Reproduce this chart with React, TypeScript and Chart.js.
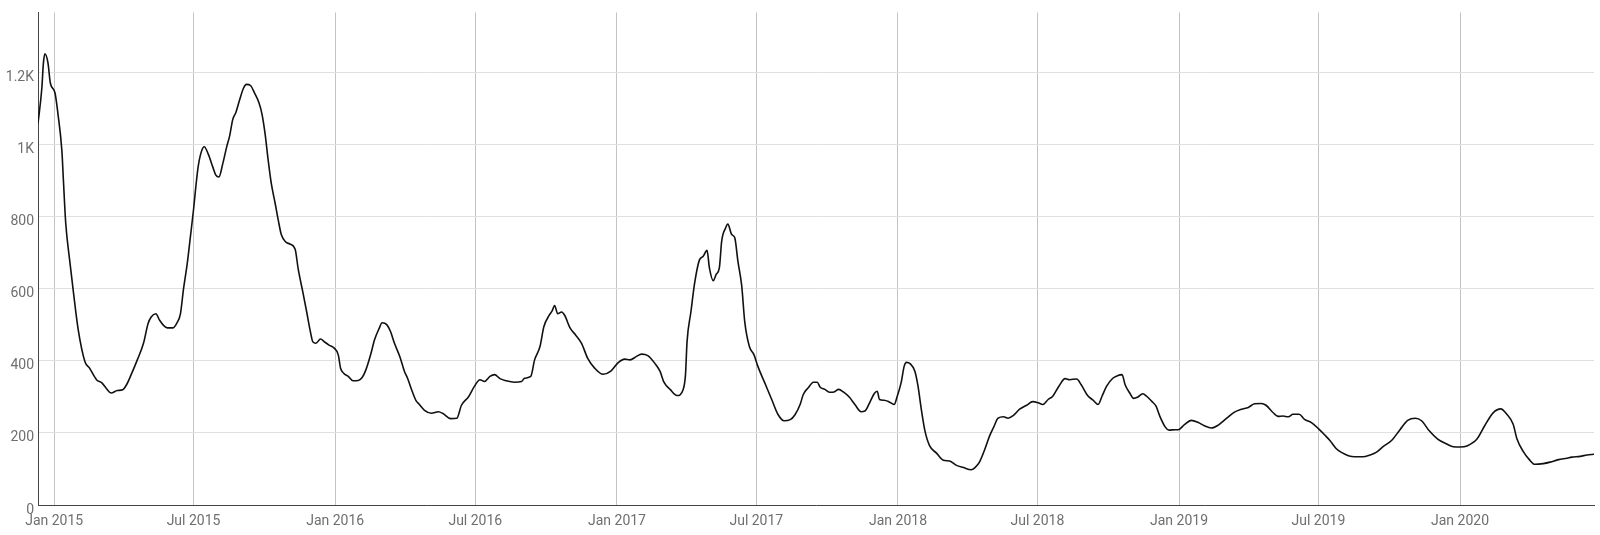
import React, { useEffect, useRef } from "react";
import { Chart, registerables } from "chart.js";

Chart.register(...registerables);

// ---- data ----
const dates: string[] = [
  "2014-12-11","2014-12-16","2014-12-18","2014-12-20","2014-12-24","2014-12-27",
  "2015-01-02","2015-01-06","2015-01-11","2015-01-13","2015-01-16","2015-01-21","2015-01-26",
  "2015-02-01","2015-02-10","2015-02-16","2015-02-25","2015-03-04","2015-03-10","2015-03-16",
  "2015-03-24","2015-03-31","2015-04-05","2015-04-11","2015-04-19","2015-04-27","2015-05-03",
  "2015-05-07","2015-05-13","2015-05-18","2015-05-23","2015-05-28","2015-06-04","2015-06-09",
  "2015-06-14","2015-06-18","2015-06-23","2015-06-27","2015-07-01","2015-07-04","2015-07-07",
  "2015-07-11","2015-07-15","2015-07-20","2015-07-26","2015-07-30","2015-08-03","2015-08-08",
  "2015-08-13","2015-08-17","2015-08-21","2015-08-25","2015-08-30","2015-09-04","2015-09-08",
  "2015-09-13","2015-09-18","2015-09-24","2015-09-28","2015-10-02","2015-10-06","2015-10-10",
  "2015-10-15","2015-10-19","2015-10-23","2015-10-29","2015-11-03","2015-11-10","2015-11-14",
  "2015-11-20","2015-11-25","2015-11-29","2015-12-03","2015-12-07","2015-12-13","2015-12-18",
  "2015-12-24","2015-12-31","2016-01-05","2016-01-08","2016-01-12","2016-01-18","2016-01-24",
  "2016-01-31","2016-02-05","2016-02-10","2016-02-16","2016-02-21","2016-02-27","2016-03-02",
  "2016-03-08","2016-03-13","2016-03-18","2016-03-25","2016-03-31","2016-04-04","2016-04-10",
  "2016-04-15","2016-04-19","2016-04-26","2016-05-05","2016-05-14","2016-05-20","2016-05-30",
  "2016-06-07","2016-06-13","2016-06-22","2016-06-30","2016-07-07","2016-07-13","2016-07-20",
  "2016-07-26","2016-08-02","2016-08-10","2016-08-21","2016-08-30","2016-09-03","2016-09-11",
  "2016-09-16","2016-09-23","2016-09-28","2016-10-05","2016-10-09","2016-10-12","2016-10-16",
  "2016-10-21","2016-10-25","2016-11-01","2016-11-08","2016-11-16","2016-11-24","2016-12-03",
  "2016-12-14","2016-12-24","2017-01-02","2017-01-11","2017-01-18","2017-01-26","2017-02-02",
  "2017-02-10","2017-02-19","2017-02-26","2017-03-03","2017-03-11","2017-03-20","2017-03-28",
  "2017-03-31","2017-04-02","2017-04-07","2017-04-12","2017-04-18","2017-04-23","2017-04-28",
  "2017-05-01","2017-05-06","2017-05-10","2017-05-14","2017-05-17","2017-05-22","2017-05-25",
  "2017-05-30","2017-06-03","2017-06-07","2017-06-12","2017-06-16","2017-06-22","2017-06-28",
  "2017-07-03","2017-07-12","2017-07-21","2017-07-29","2017-08-06","2017-08-14","2017-08-20",
  "2017-08-27","2017-08-31","2017-09-07","2017-09-13","2017-09-18","2017-09-22","2017-09-28",
  "2017-10-04","2017-10-10","2017-10-16","2017-10-22","2017-10-30","2017-11-06","2017-11-14",
  "2017-11-19","2017-11-26","2017-12-01","2017-12-05","2017-12-08","2017-12-14","2017-12-20",
  "2017-12-27","2017-12-31","2018-01-05","2018-01-09","2018-01-12","2018-01-17","2018-01-23",
  "2018-01-27","2018-01-31","2018-02-05","2018-02-11","2018-02-20","2018-03-01","2018-03-09",
  "2018-03-18","2018-03-27","2018-04-06","2018-04-11","2018-04-17","2018-04-24","2018-04-30",
  "2018-05-05","2018-05-11","2018-05-18","2018-05-24","2018-05-31","2018-06-08","2018-06-17",
  "2018-06-25","2018-07-02","2018-07-08","2018-07-15","2018-07-21","2018-07-29","2018-08-06",
  "2018-08-12","2018-08-21","2018-08-27","2018-09-04","2018-09-12","2018-09-18","2018-09-23",
  "2018-09-29","2018-10-07","2018-10-13","2018-10-19","2018-10-23","2018-10-29","2018-11-03",
  "2018-11-08","2018-11-15","2018-11-20","2018-11-27","2018-12-02","2018-12-07","2018-12-14",
  "2018-12-19","2018-12-27","2018-12-31","2019-01-08","2019-01-17","2019-01-26","2019-02-03",
  "2019-02-12","2019-02-21","2019-03-04","2019-03-14","2019-03-23","2019-04-01","2019-04-09",
  "2019-04-18","2019-04-24","2019-05-02","2019-05-10","2019-05-16","2019-05-23","2019-05-29",
  "2019-06-06","2019-06-13","2019-06-22","2019-07-01","2019-07-09","2019-07-16","2019-07-24",
  "2019-07-31","2019-08-09","2019-08-17","2019-08-28","2019-09-06","2019-09-14","2019-09-23",
  "2019-10-04","2019-10-15","2019-10-25","2019-11-04","2019-11-12","2019-11-22","2019-12-03",
  "2019-12-14","2019-12-23","2020-01-01","2020-01-10","2020-01-23","2020-02-02","2020-02-13",
  "2020-02-23","2020-03-01","2020-03-10","2020-03-15","2020-03-23","2020-03-31","2020-04-07",
  "2020-04-18","2020-04-27","2020-05-08","2020-05-19","2020-05-25","2020-06-05","2020-06-14",
  "2020-06-23",
];

const values: number[] = [
  1060,1158,1227,1253,1227,1172,
  1145,1085,984,902,783,682,591,
  490,398,380,348,339,323,311,
  318,320,334,362,403,449,504,
  522,531,513,499,492,492,504,
  531,600,673,746,820,884,939,
  980,995,975,939,916,911,948,
  994,1026,1071,1090,1126,1158,1168,
  1165,1145,1117,1085,1030,957,893,
  838,792,751,730,725,710,655,
  591,536,490,453,449,461,453,
  444,435,417,380,366,357,345,
  346,354,376,417,458,490,506,
  501,481,449,412,371,352,316,
  290,280,263,255,259,254,240,
  241,277,300,330,348,343,357,
  362,351,345,341,343,352,357,
  403,440,495,527,540,554,531,
  536,527,492,473,449,407,380,
  363,372,394,405,403,412,419,
  415,394,371,341,321,304,321,
  362,453,536,618,680,691,707,
  659,623,641,659,733,769,780,
  751,742,678,609,508,440,417,
  385,339,293,252,234,237,250,
  280,307,327,341,341,327,321,
  313,314,321,314,299,279,259,
  261,288,309,316,293,291,287,
  279,302,339,385,396,392,371,
  330,270,206,165,144,124,122,
  110,104,98,104,120,156,192,
  215,241,245,241,249,266,277,
  287,284,279,293,302,330,351,
  348,350,334,305,290,279,302,
  330,352,359,362,334,311,296,
  299,309,302,287,275,247,217,
  208,209,209,223,235,229,220,
  214,222,241,258,266,271,281,
  282,277,259,246,247,245,252,
  252,238,229,212,195,179,157,
  146,137,134,134,139,146,162,
  179,209,235,241,234,206,183,
  170,162,161,164,183,220,256,
  267,254,224,183,149,126,113,
  115,119,126,130,133,135,139,
  141,
];

const tickDates: string[] = [
  "2015-01-01","2015-07-01","2016-01-01","2016-07-01","2017-01-01","2017-07-01",
  "2018-01-01","2018-07-01","2019-01-01","2019-07-01","2020-01-01",
];
const tickLabels: string[] = [
  "Jan 2015","Jul 2015","Jan 2016","Jul 2016","Jan 2017","Jul 2017",
  "Jan 2018","Jul 2018","Jan 2019","Jul 2019","Jan 2020",
];
const yTicks: number[] = [0, 200, 400, 600, 800, 1000, 1200];
const yTickLabels: string[] = ["0", "200", "400", "600", "800", "1K", "1.2K"];
const xRange: string[] = ["2014-12-11", "2020-06-23"];
const yMax = 1368;

const BASE = Date.UTC(2015, 0, 1);
const dayOf = (d: string) => (Date.parse(d + "T00:00:00Z") - BASE) / 86400000;

export default function App() {
  const ref = useRef<HTMLCanvasElement | null>(null);

  useEffect(() => {
    document.body.style.margin = "0";
    const canvas = ref.current;
    if (!canvas) return;
    Chart.defaults.font.family = "Roboto";
    const points = dates.map((d, i) => ({ x: dayOf(d), y: values[i] }));
    const tickDays = tickDates.map(dayOf);
    const labelFor = new Map<number, string>();
    tickDays.forEach((t, i) => labelFor.set(t, tickLabels[i]));
    const yLabelFor = new Map<number, string>();
    yTicks.forEach((t, i) => yLabelFor.set(t, yTickLabels[i]));

    const chart = new Chart(canvas, {
      type: "line",
      data: {
        datasets: [
          {
            data: points,
            borderColor: "#111111",
            borderWidth: 1.6,
            pointRadius: 0,
            fill: false,
            cubicInterpolationMode: "monotone",
          },
        ],
      },
      options: {
        animation: false,
        responsive: false,
        devicePixelRatio: 1,
        layout: { padding: { top: 7, right: 6, left: 0, bottom: 0 } },
        plugins: { legend: { display: false }, tooltip: { enabled: false } },
        scales: {
          x: {
            type: "linear",
            min: dayOf(xRange[0]),
            max: dayOf(xRange[1]),
            afterBuildTicks: (scale: any) => {
              scale.ticks = tickDays.map((v) => ({ value: v }));
            },
            afterFit: (scale: any) => {
              scale.height = 30;
            },
            grid: { color: "#c4c4c4", lineWidth: 1, drawTicks: false },
            border: { color: "#444444", width: 1 },
            ticks: {
              color: "#6f6f6f",
              font: { size: 14, family: "Roboto" },
              padding: 8,
              maxRotation: 0,
              autoSkip: false,
              callback: (v: any) => labelFor.get(Number(v)) ?? "",
            },
          },
          y: {
            type: "linear",
            min: 0,
            max: yMax,
            afterBuildTicks: (scale: any) => {
              scale.ticks = yTicks.map((v) => ({ value: v }));
            },
            afterFit: (scale: any) => {
              scale.width = 38;
            },
            grid: { color: "#e0e0e0", lineWidth: 1, drawTicks: false },
            border: { color: "#444444", width: 1 },
            ticks: {
              color: "#6f6f6f",
              font: { size: 14, family: "Roboto" },
              padding: 4,
              labelOffset: 5,
              autoSkip: false,
              callback: (v: any) => yLabelFor.get(Number(v)) ?? "",
            },
          },
        },
      },
    } as any);
    return () => chart.destroy();
  }, []);

  return (
    <div style={{ position: "fixed", left: 0, top: 0, width: 1600, height: 535, background: "#fff" }}>
      <canvas ref={ref} width={1600} height={535} style={{ width: 1600, height: 535, display: "block" }} />
    </div>
  );
}
